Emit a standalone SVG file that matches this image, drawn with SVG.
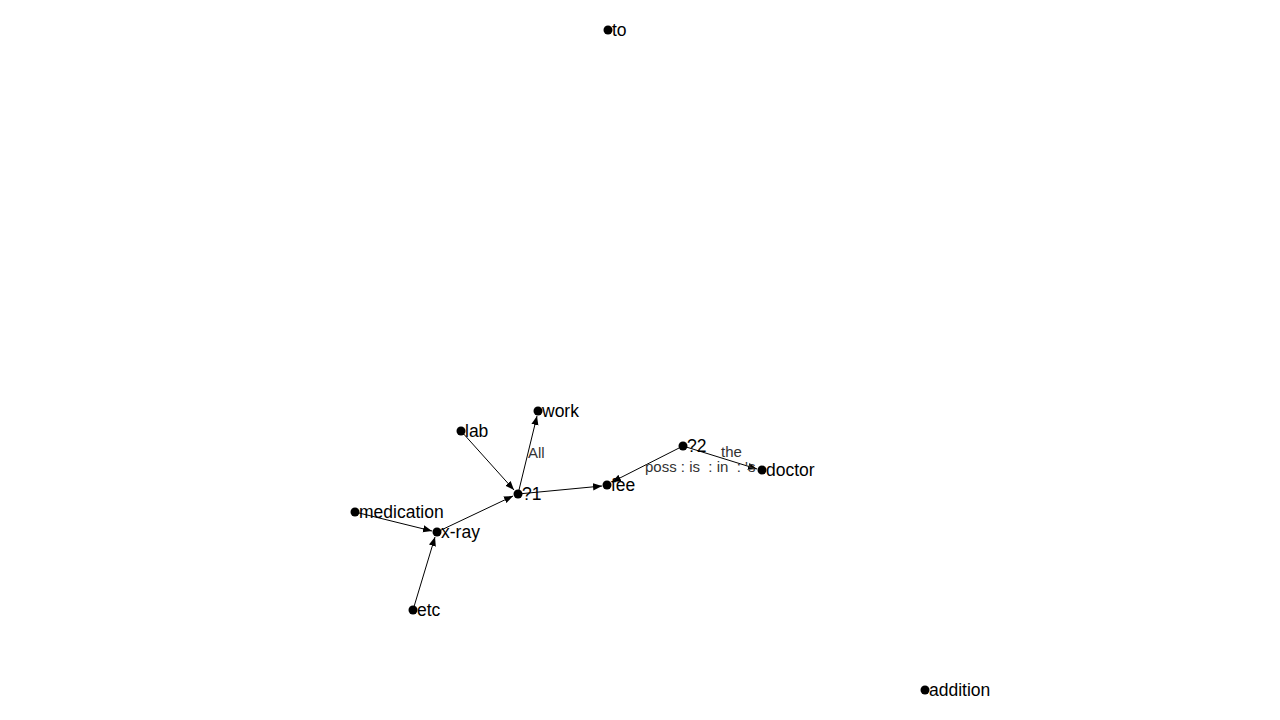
<svg xmlns="http://www.w3.org/2000/svg" width="1280" height="720" viewBox="0 0 1280 720">
<style>
.n{font-family:"Liberation Sans",Arial,sans-serif;font-size:17.5px;fill:#000}
.e{font-family:"Liberation Sans",Arial,sans-serif;font-size:15px;fill:#333;white-space:pre}
.l{stroke:#000;stroke-width:1;fill:none;marker-end:url(#a)}
</style>
<defs>
<marker id="a" viewBox="0 0 10 10" refX="10" refY="5" markerWidth="9" markerHeight="9" markerUnits="userSpaceOnUse" orient="auto">
<path d="M0,1 L10,5 L0,9 z" fill="#000"/>
</marker>
</defs>
<rect width="1280" height="720" fill="#fff"/>
<g id="edges">
<line class="l" x1="355" y1="512" x2="432" y2="531"/>
<line class="l" x1="413" y1="610" x2="435" y2="537"/>
<line class="l" x1="437" y1="532" x2="513" y2="496"/>
<line class="l" x1="461" y1="431" x2="514" y2="490"/>
<line class="l" x1="518" y1="494" x2="537" y2="416"/>
<line class="l" x1="518" y1="494" x2="602" y2="486"/>
<line class="l" x1="683" y1="446" x2="612" y2="482"/>
<line class="l" x1="683" y1="446" x2="757" y2="469"/>
<text class="e" x="528" y="458">All</text>
<text class="e" x="721" y="457">the</text>
<text class="e" x="645" y="472" xml:space="preserve">poss : is  : in  : 's</text>
</g>
<g id="n_to"><circle cx="608" cy="30" r="4.5"/><text class="n" x="612" y="36">to</text></g>
<g id="n_work"><circle cx="538" cy="411" r="4.5"/><text class="n" x="542" y="417">work</text></g>
<g id="n_lab"><circle cx="461" cy="431" r="4.5"/><text class="n" x="465" y="437">lab</text></g>
<g id="n_q1"><circle cx="518" cy="494" r="4.5"/><text class="n" x="522" y="500">?1</text></g>
<g id="n_q2"><circle cx="683" cy="446" r="4.5"/><text class="n" x="687" y="452">?2</text></g>
<g id="n_fee"><circle cx="607" cy="485" r="4.5"/><text class="n" x="611" y="491">fee</text></g>
<g id="n_doctor"><circle cx="762" cy="470" r="4.5"/><text class="n" x="766" y="476">doctor</text></g>
<g id="n_medication"><circle cx="355" cy="512" r="4.5"/><text class="n" x="359" y="518">medication</text></g>
<g id="n_xray"><circle cx="437" cy="532" r="4.5"/><text class="n" x="441" y="538">x-ray</text></g>
<g id="n_etc"><circle cx="413" cy="610" r="4.5"/><text class="n" x="417" y="616">etc</text></g>
<g id="n_addition"><circle cx="925" cy="690" r="4.5"/><text class="n" x="929" y="696">addition</text></g>
</svg>
